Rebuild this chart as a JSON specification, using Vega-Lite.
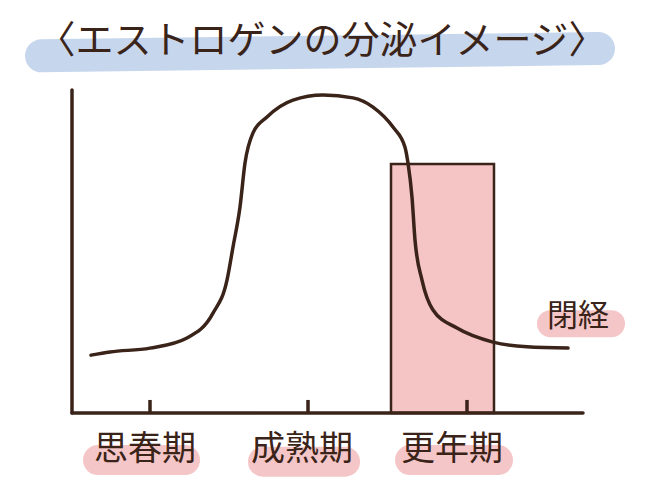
{
  "$schema": "https://vega.github.io/schema/vega-lite/v6.json",
  "width": 650,
  "height": 491,
  "padding": 0,
  "autosize": {"type": "fit", "contains": "padding"},
  "background": "#ffffff",
  "config": {"view": {"stroke": null}},
  "datasets": {
    "curve": [
      {"age": 9.1, "level": 18.2},
      {"age": 11.0, "level": 19.2},
      {"age": 15.0, "level": 20.4},
      {"age": 18.7, "level": 23.6},
      {"age": 21.3, "level": 31.4},
      {"age": 22.7, "level": 41.8},
      {"age": 23.3, "level": 52.2},
      {"age": 24.0, "level": 64.8},
      {"age": 24.5, "level": 78.6},
      {"age": 25.3, "level": 88.1},
      {"age": 26.7, "level": 93.1},
      {"age": 29.3, "level": 98.4},
      {"age": 32.3, "level": 100},
      {"age": 35.3, "level": 99.1},
      {"age": 37.3, "level": 96.2},
      {"age": 39.3, "level": 89.9},
      {"age": 40.5, "level": 83.6},
      {"age": 40.8, "level": 78.6},
      {"age": 41.2, "level": 67.9},
      {"age": 41.5, "level": 54.4},
      {"age": 42.2, "level": 41.8},
      {"age": 43.3, "level": 32.4},
      {"age": 45.7, "level": 26.7},
      {"age": 49.3, "level": 22.3},
      {"age": 52.7, "level": 20.8},
      {"age": 56.8, "level": 20.4}
    ],
    "stages": [
      {"stage": "思春期", "tick": 15.0, "label_x": 14.5, "label_y": -11.6, "pill_x": 9.8, "pill_x2": 18.5, "pill_y": -14.8},
      {"stage": "成熟期", "tick": 30.8, "label_x": 30.2, "label_y": -11.6, "pill_x": 26.3, "pill_x2": 34.5, "pill_y": -15.3},
      {"stage": "更年期", "tick": 46.7, "label_x": 45.2, "label_y": -11.6, "pill_x": 41.0, "pill_x2": 49.8, "pill_y": -14.8}
    ],
    "menopause": [
      {"label": "閉経", "label_x": 57.8, "label_y": 30.2, "pill_x": 55.05, "pill_x2": 61.15, "pill_y": 28.1}
    ],
    "period": [
      {"start": 39.1, "end": 49.4, "top": 78.3, "bottom": 0}
    ],
    "axes": [
      {"x": 7.2, "x2": 7.2, "y": 0, "y2": 101.6},
      {"x": 7.2, "x2": 58.3, "y": 0, "y2": 0}
    ],
    "title": [
      {"text": "〈エストロゲンの分泌イメージ〉", "x": 32.2, "y": 116.7, "bx": 4.15, "bx2": 59.85, "by": 112.3, "by2": 114.6}
    ]
  },
  "layer": [
    {
      "data": {"name": "title"},
      "mark": {"type": "rule", "strokeWidth": 33, "strokeCap": "round", "color": "#c6d6ec"},
      "encoding": {
        "x": {"field": "bx", "type": "quantitative", "scale": {"domain": [0, 65], "nice": false, "zero": false}, "axis": null},
        "x2": {"field": "bx2"},
        "y": {"field": "by", "type": "quantitative", "scale": {"domain": [-24.53, 129.87], "nice": false, "zero": false}, "axis": null},
        "y2": {"field": "by2"}
      }
    },
    {
      "data": {"name": "title"},
      "mark": {"type": "text", "font": "Noto Sans CJK JP", "fontSize": 38, "color": "#3a2318", "baseline": "middle", "align": "center"},
      "encoding": {
        "x": {"field": "x", "type": "quantitative"},
        "y": {"field": "y", "type": "quantitative"},
        "text": {"field": "text"}
      }
    },
    {
      "data": {"name": "stages"},
      "mark": {"type": "rule", "strokeWidth": 30, "strokeCap": "round", "color": "#f5c6c7"},
      "encoding": {
        "x": {"field": "pill_x", "type": "quantitative"},
        "x2": {"field": "pill_x2"},
        "y": {"field": "pill_y", "type": "quantitative"}
      }
    },
    {
      "data": {"name": "menopause"},
      "mark": {"type": "rule", "strokeWidth": 27, "strokeCap": "round", "color": "#f5c6c7"},
      "encoding": {
        "x": {"field": "pill_x", "type": "quantitative"},
        "x2": {"field": "pill_x2"},
        "y": {"field": "pill_y", "type": "quantitative"}
      }
    },
    {
      "data": {"name": "stages"},
      "mark": {"type": "text", "font": "Noto Sans CJK JP", "fontSize": 34, "color": "#3a2318", "baseline": "middle", "align": "center"},
      "encoding": {
        "x": {"field": "label_x", "type": "quantitative"},
        "y": {"field": "label_y", "type": "quantitative"},
        "text": {"field": "stage"}
      }
    },
    {
      "data": {"name": "menopause"},
      "mark": {"type": "text", "font": "Noto Sans CJK JP", "fontSize": 31, "color": "#3a2318", "baseline": "middle", "align": "center"},
      "encoding": {
        "x": {"field": "label_x", "type": "quantitative"},
        "y": {"field": "label_y", "type": "quantitative"},
        "text": {"field": "label"}
      }
    },
    {
      "data": {"name": "period"},
      "mark": {"type": "rect", "fill": "#f5c4c5", "stroke": "#3a2318", "strokeWidth": 2.5},
      "encoding": {
        "x": {"field": "start", "type": "quantitative"},
        "x2": {"field": "end"},
        "y": {"field": "top", "type": "quantitative"},
        "y2": {"field": "bottom"}
      }
    },
    {
      "data": {"name": "axes"},
      "mark": {"type": "rule", "strokeWidth": 3.5, "strokeCap": "round", "color": "#3a2318"},
      "encoding": {
        "x": {"field": "x", "type": "quantitative"},
        "x2": {"field": "x2"},
        "y": {"field": "y", "type": "quantitative"},
        "y2": {"field": "y2"}
      }
    },
    {
      "data": {"name": "stages"},
      "mark": {"type": "rule", "strokeWidth": 3.5, "color": "#3a2318"},
      "encoding": {
        "x": {"field": "tick", "type": "quantitative"},
        "y": {"datum": 0, "type": "quantitative"},
        "y2": {"datum": 4.1}
      }
    },
    {
      "data": {"name": "curve"},
      "mark": {"type": "line", "interpolate": "monotone", "strokeWidth": 3.5, "strokeCap": "round", "color": "#3a2318"},
      "encoding": {
        "x": {"field": "age", "type": "quantitative"},
        "y": {"field": "level", "type": "quantitative"}
      }
    }
  ]
}
